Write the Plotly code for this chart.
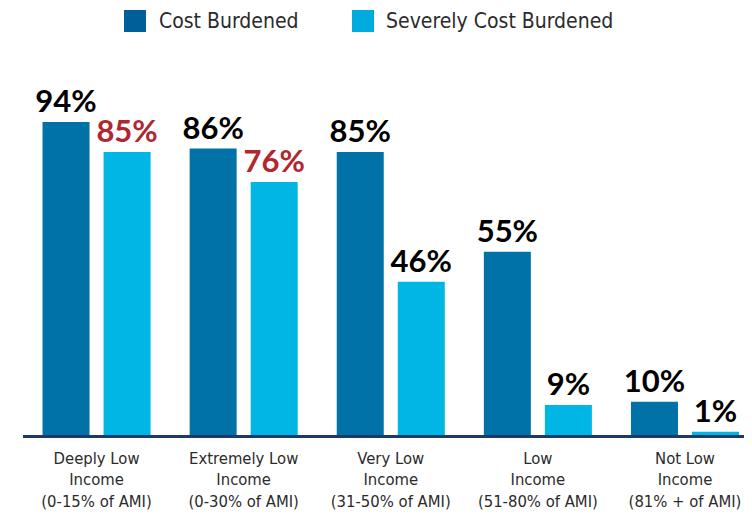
import plotly.graph_objects as go

categories = ["Deeply Low", "Extremely Low", "Very Low", "Low", "Not Low"]
tick_labels = [
    "Deeply Low<br>Income<br>(0-15% of AMI)",
    "Extremely Low<br>Income<br>(0-30% of AMI)",
    "Very Low<br>Income<br>(31-50% of AMI)",
    "Low<br>Income<br>(51-80% of AMI)",
    "Not Low<br>Income<br>(81% + of AMI)",
]
cost_burdened = [94, 86, 85, 55, 10]
severely_burdened = [85, 76, 46, 9, 1]
severe_label_colors = ["#B1262F", "#B1262F", "#000000", "#000000", "#000000"]

DARK = "#0072A8"
LIGHT = "#00B6E4"
NARROW = "DejaVu Sans Condensed, Liberation Sans Narrow, sans-serif"
BOLD = "Lato, Open Sans, DejaVu Sans, sans-serif"

OFF = 8  # page body margin offset
W, H = 752, 515
L, R, T, B = 23 - OFF, 0, 60 - OFF, 80 + OFF
pw, ph = W - L - R, H - T - B
BOTTOM = H - B  # figure y of plot bottom

def px(x):  # page pixel -> paper
    return (x - OFF - L) / pw

def py(y):
    return (BOTTOM - (y - OFF)) / ph

fig = go.Figure()
fig.add_trace(go.Bar(
    x=categories, y=cost_burdened, name="Cost Burdened",
    marker=dict(color=DARK, line=dict(width=0)),
    text=[f"{v}%" for v in cost_burdened], textposition="outside",
    textfont=dict(family=BOLD, size=31, color="#000000", weight="bold"),
    constraintext="none", cliponaxis=False,
))
fig.add_trace(go.Bar(
    x=categories, y=severely_burdened, name="Severely Cost Burdened",
    marker=dict(color=LIGHT, line=dict(width=0)),
    text=[f"{v}%" for v in severely_burdened], textposition="outside",
    textfont=dict(family=BOLD, size=31, color=severe_label_colors, weight="bold"),
    constraintext="none", cliponaxis=False,
))

shapes = []
annotations = []
legend_items = [("Cost Burdened", "#005F98", 124, 157), ("Severely Cost Burdened", "#00ABDD", 352, 384)]
for name, col, sx, tx in legend_items:
    shapes.append(dict(type="rect", xref="paper", yref="paper",
                       x0=px(sx), x1=px(sx + 22), y0=py(32), y1=py(10),
                       fillcolor=col, line=dict(width=0)))
    annotations.append(dict(text=name, xref="paper", yref="paper",
                            x=px(tx), y=py(21), xanchor="left", yanchor="middle",
                            showarrow=False,
                            font=dict(family=NARROW, size=21, color="#2B2B2B")))

fig.update_layout(
    width=W, height=H,
    margin=dict(l=L, r=R, t=T, b=B, autoexpand=False),
    paper_bgcolor="white", plot_bgcolor="white",
    barmode="group", bargap=0.17, bargroupgap=0.23,
    showlegend=False,
    shapes=shapes, annotations=annotations,
    xaxis=dict(
        type="category", range=[-0.5, 4.51], automargin=False,
        tickmode="array", tickvals=categories, ticktext=tick_labels, tickangle=0,
        showline=True, linecolor="#1B3A6B", linewidth=3,
        ticks="outside", ticklen=6, tickcolor="rgba(0,0,0,0)",
        tickfont=dict(family=NARROW, size=16.5, color="#2B2B2B"),
        showgrid=False, zeroline=False,
    ),
    yaxis=dict(range=[0, 112.6], visible=False, showgrid=False, zeroline=False),
)

fig.write_html("out.html")
